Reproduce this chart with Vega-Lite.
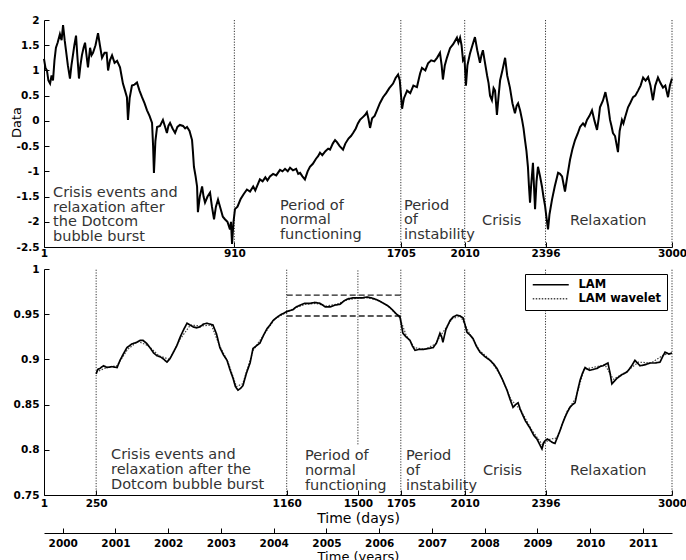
{
  "$schema": "https://vega.github.io/schema/vega-lite/v6.json",
  "background": "white",
  "padding": {"left": 10, "top": 15, "right": 0, "bottom": 0},
  "bounds": "flush",
  "spacing": 22,
  "config": {
    "view": {"stroke": null},
    "font": "DejaVu Sans",
    "axis": {
      "grid": false,
      "domainColor": "black",
      "domainWidth": 1,
      "tickColor": "black",
      "tickSize": -5,
      "tickWidth": 1,
      "labelFont": "DejaVu Sans",
      "labelFontWeight": "bold",
      "labelFontSize": 10.5,
      "labelColor": "black",
      "labelFlush": false,
      "labelOverlap": false,
      "titleFont": "DejaVu Sans",
      "titleFontWeight": "normal",
      "titleFontSize": 14,
      "titleColor": "black"
    }
  },
  "datasets": {
    "top": [
      {"d":1,"v":1.23},{"d":8,"v":1.05},{"d":15,"v":1.0},{"d":22,"v":0.8},{"d":30,"v":0.74},{"d":37,"v":0.9},{"d":44,"v":0.8},{"d":51,"v":1.2},{"d":58,"v":1.45},{"d":66,"v":1.55},{"d":77,"v":1.72},{"d":85,"v":1.6},{"d":92,"v":1.9},{"d":100,"v":1.59},{"d":106,"v":1.4},{"d":115,"v":1.1},{"d":125,"v":0.84},{"d":132,"v":1.1},{"d":139,"v":1.3},{"d":146,"v":1.5},{"d":154,"v":1.69},{"d":160,"v":1.3},{"d":168,"v":0.84},{"d":175,"v":1.1},{"d":182,"v":1.3},{"d":190,"v":1.45},{"d":197,"v":1.55},{"d":204,"v":1.3},{"d":211,"v":1.06},{"d":221,"v":1.45},{"d":228,"v":1.3},{"d":235,"v":1.35},{"d":247,"v":1.5},{"d":259,"v":1.74},{"d":268,"v":1.5},{"d":278,"v":1.25},{"d":290,"v":1.35},{"d":300,"v":1.35},{"d":307,"v":1.0},{"d":316,"v":1.2},{"d":326,"v":1.3},{"d":338,"v":1.15},{"d":350,"v":1.19},{"d":364,"v":1.06},{"d":371,"v":0.9},{"d":378,"v":0.74},{"d":388,"v":0.6},{"d":397,"v":0.47},{"d":402,"v":0.02},{"d":410,"v":0.45},{"d":421,"v":0.7},{"d":433,"v":0.72},{"d":445,"v":0.76},{"d":457,"v":0.6},{"d":469,"v":0.47},{"d":481,"v":0.35},{"d":493,"v":0.21},{"d":505,"v":0.1},{"d":517,"v":-0.04},{"d":522,"v":-0.5},{"d":526,"v":-1.03},{"d":533,"v":-0.4},{"d":541,"v":-0.12},{"d":555,"v":-0.1},{"d":569,"v":0.02},{"d":578,"v":-0.1},{"d":588,"v":-0.24},{"d":595,"v":-0.1},{"d":603,"v":-0.04},{"d":615,"v":-0.15},{"d":627,"v":-0.24},{"d":638,"v":-0.12},{"d":650,"v":-0.08},{"d":665,"v":-0.1},{"d":675,"v":-0.15},{"d":684,"v":-0.12},{"d":696,"v":-0.2},{"d":708,"v":-0.38},{"d":712,"v":-0.6},{"d":717,"v":-0.91},{"d":725,"v":-1.1},{"d":732,"v":-1.3},{"d":736,"v":-1.81},{"d":745,"v":-1.5},{"d":756,"v":-1.3},{"d":763,"v":-1.5},{"d":770,"v":-1.62},{"d":782,"v":-1.5},{"d":794,"v":-1.42},{"d":803,"v":-1.7},{"d":813,"v":-1.95},{"d":822,"v":-1.7},{"d":832,"v":-1.56},{"d":845,"v":-1.75},{"d":855,"v":-1.9},{"d":865,"v":-1.95},{"d":877,"v":-2.0},{"d":889,"v":-2.15},{"d":894,"v":-2.0},{"d":899,"v":-2.44},{"d":906,"v":-2.0},{"d":913,"v":-1.75},{"d":925,"v":-1.7},{"d":940,"v":-1.55},{"d":955,"v":-1.45},{"d":970,"v":-1.36},{"d":985,"v":-1.4},{"d":1000,"v":-1.3},{"d":1010,"v":-1.38},{"d":1018,"v":-1.3},{"d":1032,"v":-1.16},{"d":1045,"v":-1.2},{"d":1058,"v":-1.12},{"d":1068,"v":-1.18},{"d":1080,"v":-1.1},{"d":1095,"v":-1.05},{"d":1110,"v":-1.08},{"d":1128,"v":-0.97},{"d":1140,"v":-1.0},{"d":1152,"v":-0.95},{"d":1165,"v":-1.0},{"d":1176,"v":-0.93},{"d":1190,"v":-0.98},{"d":1205,"v":-0.95},{"d":1215,"v":-1.05},{"d":1224,"v":-1.03},{"d":1235,"v":-1.1},{"d":1247,"v":-1.16},{"d":1260,"v":-1.0},{"d":1271,"v":-0.91},{"d":1285,"v":-0.85},{"d":1300,"v":-0.75},{"d":1310,"v":-0.7},{"d":1319,"v":-0.63},{"d":1330,"v":-0.68},{"d":1345,"v":-0.6},{"d":1358,"v":-0.55},{"d":1367,"v":-0.57},{"d":1380,"v":-0.45},{"d":1391,"v":-0.38},{"d":1400,"v":-0.42},{"d":1413,"v":-0.5},{"d":1429,"v":-0.57},{"d":1440,"v":-0.45},{"d":1455,"v":-0.35},{"d":1467,"v":-0.3},{"d":1477,"v":-0.24},{"d":1490,"v":-0.15},{"d":1500,"v":-0.05},{"d":1510,"v":0.02},{"d":1525,"v":0.08},{"d":1535,"v":0.12},{"d":1543,"v":0.17},{"d":1550,"v":0.05},{"d":1558,"v":-0.14},{"d":1568,"v":0.05},{"d":1580,"v":0.1},{"d":1591,"v":0.21},{"d":1605,"v":0.35},{"d":1620,"v":0.47},{"d":1635,"v":0.55},{"d":1650,"v":0.65},{"d":1668,"v":0.74},{"d":1680,"v":0.85},{"d":1692,"v":0.92},{"d":1700,"v":0.8},{"d":1706,"v":0.5},{"d":1711,"v":0.24},{"d":1720,"v":0.45},{"d":1735,"v":0.6},{"d":1750,"v":0.55},{"d":1765,"v":0.7},{"d":1782,"v":0.67},{"d":1797,"v":0.94},{"d":1806,"v":1.05},{"d":1822,"v":1.0},{"d":1835,"v":1.14},{"d":1850,"v":1.2},{"d":1865,"v":1.18},{"d":1878,"v":1.25},{"d":1892,"v":1.35},{"d":1900,"v":1.1},{"d":1906,"v":0.82},{"d":1915,"v":1.1},{"d":1925,"v":1.25},{"d":1940,"v":1.44},{"d":1955,"v":1.52},{"d":1973,"v":1.65},{"d":1980,"v":1.55},{"d":1988,"v":1.65},{"d":1995,"v":1.5},{"d":2002,"v":1.2},{"d":2009,"v":1.25},{"d":2016,"v":0.7},{"d":2023,"v":1.1},{"d":2035,"v":1.33},{"d":2047,"v":1.5},{"d":2059,"v":1.66},{"d":2070,"v":1.4},{"d":2083,"v":1.15},{"d":2090,"v":1.3},{"d":2097,"v":1.4},{"d":2105,"v":1.2},{"d":2117,"v":0.9},{"d":2124,"v":0.75},{"d":2131,"v":0.5},{"d":2140,"v":0.41},{"d":2148,"v":0.65},{"d":2155,"v":0.6},{"d":2164,"v":0.12},{"d":2172,"v":0.5},{"d":2179,"v":0.8},{"d":2190,"v":1.0},{"d":2203,"v":1.25},{"d":2213,"v":0.9},{"d":2226,"v":0.66},{"d":2238,"v":0.35},{"d":2250,"v":0.15},{"d":2258,"v":0.3},{"d":2265,"v":0.35},{"d":2275,"v":0.2},{"d":2284,"v":0.02},{"d":2291,"v":-0.15},{"d":2298,"v":-0.38},{"d":2305,"v":-0.6},{"d":2312,"v":-0.91},{"d":2317,"v":-1.3},{"d":2322,"v":-1.62},{"d":2327,"v":-1.3},{"d":2336,"v":-0.83},{"d":2341,"v":-1.3},{"d":2346,"v":-1.75},{"d":2353,"v":-1.2},{"d":2360,"v":-0.91},{"d":2370,"v":-1.1},{"d":2379,"v":-1.3},{"d":2386,"v":-1.5},{"d":2394,"v":-1.69},{"d":2400,"v":-1.9},{"d":2408,"v":-2.15},{"d":2415,"v":-1.85},{"d":2427,"v":-1.56},{"d":2440,"v":-1.3},{"d":2456,"v":-1.03},{"d":2465,"v":-1.05},{"d":2475,"v":-1.1},{"d":2482,"v":-1.25},{"d":2489,"v":-1.4},{"d":2500,"v":-1.1},{"d":2513,"v":-0.77},{"d":2525,"v":-0.55},{"d":2537,"v":-0.38},{"d":2550,"v":-0.25},{"d":2561,"v":-0.12},{"d":2575,"v":-0.05},{"d":2584,"v":-0.1},{"d":2594,"v":0.02},{"d":2606,"v":0.1},{"d":2618,"v":0.21},{"d":2630,"v":0.0},{"d":2642,"v":-0.18},{"d":2650,"v":0.05},{"d":2656,"v":0.27},{"d":2670,"v":0.4},{"d":2682,"v":0.57},{"d":2695,"v":0.3},{"d":2704,"v":0.02},{"d":2711,"v":-0.1},{"d":2718,"v":-0.24},{"d":2728,"v":-0.3},{"d":2742,"v":-0.62},{"d":2750,"v":-0.2},{"d":2761,"v":0.02},{"d":2768,"v":-0.05},{"d":2776,"v":0.07},{"d":2790,"v":0.27},{"d":2800,"v":0.35},{"d":2814,"v":0.47},{"d":2825,"v":0.5},{"d":2838,"v":0.6},{"d":2850,"v":0.7},{"d":2862,"v":0.86},{"d":2874,"v":0.8},{"d":2886,"v":0.87},{"d":2897,"v":0.7},{"d":2909,"v":0.41},{"d":2920,"v":0.7},{"d":2933,"v":0.86},{"d":2945,"v":0.75},{"d":2957,"v":0.66},{"d":2968,"v":0.7},{"d":2981,"v":0.47},{"d":2990,"v":0.7},{"d":3000,"v":0.84}
    ],
    "lam": [
      {"d":250,"v":0.884},{"d":258,"v":0.889},{"d":268,"v":0.89},{"d":285,"v":0.893},{"d":302,"v":0.891},{"d":325,"v":0.892},{"d":350,"v":0.891},{"d":364,"v":0.899},{"d":380,"v":0.906},{"d":397,"v":0.913},{"d":420,"v":0.917},{"d":445,"v":0.919},{"d":460,"v":0.921},{"d":474,"v":0.921},{"d":490,"v":0.918},{"d":507,"v":0.913},{"d":525,"v":0.907},{"d":541,"v":0.904},{"d":555,"v":0.903},{"d":569,"v":0.901},{"d":588,"v":0.897},{"d":603,"v":0.901},{"d":617,"v":0.907},{"d":635,"v":0.915},{"d":650,"v":0.924},{"d":668,"v":0.933},{"d":684,"v":0.94},{"d":698,"v":0.938},{"d":713,"v":0.936},{"d":730,"v":0.935},{"d":746,"v":0.936},{"d":762,"v":0.939},{"d":779,"v":0.94},{"d":795,"v":0.939},{"d":808,"v":0.938},{"d":825,"v":0.928},{"d":841,"v":0.913},{"d":858,"v":0.905},{"d":875,"v":0.899},{"d":890,"v":0.888},{"d":904,"v":0.879},{"d":915,"v":0.87},{"d":927,"v":0.866},{"d":940,"v":0.868},{"d":951,"v":0.871},{"d":968,"v":0.885},{"d":985,"v":0.896},{"d":999,"v":0.912},{"d":1015,"v":0.915},{"d":1032,"v":0.918},{"d":1050,"v":0.927},{"d":1066,"v":0.934},{"d":1080,"v":0.938},{"d":1095,"v":0.943},{"d":1110,"v":0.946},{"d":1128,"v":0.949},{"d":1145,"v":0.951},{"d":1161,"v":0.953},{"d":1175,"v":0.954},{"d":1190,"v":0.955},{"d":1205,"v":0.958},{"d":1224,"v":0.96},{"d":1245,"v":0.962},{"d":1271,"v":0.962},{"d":1295,"v":0.963},{"d":1319,"v":0.962},{"d":1345,"v":0.958},{"d":1367,"v":0.958},{"d":1390,"v":0.96},{"d":1415,"v":0.961},{"d":1435,"v":0.965},{"d":1453,"v":0.967},{"d":1475,"v":0.968},{"d":1496,"v":0.968},{"d":1520,"v":0.968},{"d":1543,"v":0.969},{"d":1565,"v":0.968},{"d":1591,"v":0.966},{"d":1615,"v":0.963},{"d":1639,"v":0.96},{"d":1655,"v":0.957},{"d":1668,"v":0.954},{"d":1685,"v":0.95},{"d":1701,"v":0.947},{"d":1708,"v":0.938},{"d":1715,"v":0.929},{"d":1730,"v":0.925},{"d":1749,"v":0.921},{"d":1760,"v":0.915},{"d":1773,"v":0.91},{"d":1790,"v":0.911},{"d":1811,"v":0.911},{"d":1835,"v":0.912},{"d":1859,"v":0.913},{"d":1875,"v":0.918},{"d":1892,"v":0.929},{"d":1900,"v":0.925},{"d":1906,"v":0.919},{"d":1920,"v":0.933},{"d":1940,"v":0.943},{"d":1955,"v":0.947},{"d":1973,"v":0.949},{"d":1988,"v":0.948},{"d":2002,"v":0.946},{"d":2012,"v":0.938},{"d":2021,"v":0.93},{"d":2035,"v":0.927},{"d":2050,"v":0.923},{"d":2065,"v":0.915},{"d":2083,"v":0.908},{"d":2107,"v":0.903},{"d":2131,"v":0.899},{"d":2148,"v":0.895},{"d":2164,"v":0.89},{"d":2190,"v":0.878},{"d":2212,"v":0.866},{"d":2228,"v":0.855},{"d":2241,"v":0.847},{"d":2253,"v":0.85},{"d":2265,"v":0.852},{"d":2275,"v":0.845},{"d":2284,"v":0.84},{"d":2300,"v":0.832},{"d":2322,"v":0.824},{"d":2340,"v":0.816},{"d":2355,"v":0.812},{"d":2368,"v":0.806},{"d":2379,"v":0.801},{"d":2387,"v":0.808},{"d":2394,"v":0.81},{"d":2405,"v":0.812},{"d":2417,"v":0.81},{"d":2430,"v":0.808},{"d":2441,"v":0.807},{"d":2453,"v":0.814},{"d":2465,"v":0.821},{"d":2477,"v":0.829},{"d":2489,"v":0.836},{"d":2501,"v":0.842},{"d":2513,"v":0.847},{"d":2525,"v":0.85},{"d":2537,"v":0.852},{"d":2549,"v":0.865},{"d":2561,"v":0.877},{"d":2573,"v":0.885},{"d":2585,"v":0.891},{"d":2597,"v":0.889},{"d":2608,"v":0.888},{"d":2625,"v":0.889},{"d":2642,"v":0.89},{"d":2656,"v":0.892},{"d":2670,"v":0.893},{"d":2685,"v":0.895},{"d":2694,"v":0.896},{"d":2704,"v":0.885},{"d":2713,"v":0.873},{"d":2725,"v":0.876},{"d":2737,"v":0.879},{"d":2760,"v":0.883},{"d":2785,"v":0.886},{"d":2805,"v":0.892},{"d":2823,"v":0.899},{"d":2835,"v":0.896},{"d":2847,"v":0.893},{"d":2870,"v":0.894},{"d":2895,"v":0.896},{"d":2920,"v":0.896},{"d":2943,"v":0.897},{"d":2955,"v":0.903},{"d":2967,"v":0.908},{"d":2985,"v":0.906},{"d":3000,"v":0.907}
    ],
    "wavelet": [
      {"d":250,"v":0.886},{"d":300,"v":0.891},{"d":350,"v":0.893},{"d":400,"v":0.911},{"d":450,"v":0.92},{"d":500,"v":0.915},{"d":550,"v":0.904},{"d":600,"v":0.9},{"d":650,"v":0.922},{"d":700,"v":0.938},{"d":750,"v":0.937},{"d":800,"v":0.938},{"d":840,"v":0.915},{"d":880,"v":0.897},{"d":920,"v":0.87},{"d":950,"v":0.873},{"d":1000,"v":0.91},{"d":1050,"v":0.927},{"d":1100,"v":0.944},{"d":1150,"v":0.951},{"d":1200,"v":0.957},{"d":1250,"v":0.961},{"d":1300,"v":0.962},{"d":1350,"v":0.959},{"d":1400,"v":0.961},{"d":1450,"v":0.966},{"d":1500,"v":0.968},{"d":1550,"v":0.968},{"d":1600,"v":0.965},{"d":1650,"v":0.958},{"d":1700,"v":0.946},{"d":1730,"v":0.927},{"d":1770,"v":0.913},{"d":1820,"v":0.911},{"d":1870,"v":0.917},{"d":1900,"v":0.928},{"d":1950,"v":0.945},{"d":1990,"v":0.948},{"d":2030,"v":0.93},{"d":2080,"v":0.91},{"d":2130,"v":0.9},{"d":2180,"v":0.883},{"d":2230,"v":0.856},{"d":2280,"v":0.843},{"d":2330,"v":0.822},{"d":2380,"v":0.806},{"d":2420,"v":0.812},{"d":2450,"v":0.813},{"d":2500,"v":0.843},{"d":2540,"v":0.857},{"d":2580,"v":0.889},{"d":2620,"v":0.891},{"d":2680,"v":0.894},{"d":2720,"v":0.878},{"d":2780,"v":0.886},{"d":2840,"v":0.897},{"d":2900,"v":0.896},{"d":2960,"v":0.905},{"d":3000,"v":0.907}
    ]
  },
  "vconcat": [
    {
      "width": 628,
      "height": 227,
      "layer": [
        {
          "data": {"values": [{"d":910},{"d":1705},{"d":2010},{"d":2396},{"d":3000}]},
          "mark": {"type": "rule", "color": "#333", "strokeWidth": 1, "strokeDash": [1.2, 1.5]},
          "encoding": {"x": {"field": "d", "type": "quantitative"}}
        },
        {
          "data": {"name": "top"},
          "mark": {"type": "line", "color": "black", "strokeWidth": 2},
          "encoding": {
            "x": {"field": "d", "type": "quantitative",
                  "scale": {"domain": [1, 3000], "nice": false, "zero": false},
                  "axis": {"values": [1, 910, 1705, 2010, 2396, 3000], "format": "d", "title": null, "labelPadding": 6, "labelOverlap": false, "labelFlush": false}},
            "y": {"field": "v", "type": "quantitative",
                  "scale": {"domain": [-2.5, 2], "nice": false, "zero": false},
                  "axis": {"values": [-2.5, -2, -1.5, -1, -0.5, 0, 0.5, 1, 1.5, 2], "format": "~g", "labelExpr": "replace(datum.label, '−', '-')", "labelOverlap": false, "labelSeparation": 0, "labelBound": false, "labelPadding": 10, "title": "Data", "titleX": -28, "titleY": 102, "titleBaseline": "middle", "titleAlign": "center", "titleFontSize": 13}}
          }
        },
        {
          "data": {"values": [
            {"d": 44, "v": -1.291, "t": "Crisis events and\nrelaxation after\nthe Dotcom\nbubble burst"},
            {"d": 1128, "v": -1.548, "t": "Period of\nnormal\nfunctioning"},
            {"d": 1720, "v": -1.548, "t": "Period\nof\ninstability"},
            {"d": 2093, "v": -1.85, "t": "Crisis"},
            {"d": 2513, "v": -1.85, "t": "Relaxation"}
          ]},
          "mark": {"type": "text", "align": "left", "baseline": "top", "fontSize": 14.5, "lineHeight": 14.5, "lineBreak": "\n", "color": "#333", "font": "DejaVu Sans"},
          "encoding": {
            "x": {"field": "d", "type": "quantitative"},
            "y": {"field": "v", "type": "quantitative", "axis": {"values": [-2.5, -2, -1.5, -1, -0.5, 0, 0.5, 1, 1.5, 2]}},
            "text": {"field": "t"}
          }
        }
      ]
    },
    {
      "width": 628,
      "height": 226,
      "resolve": {"scale": {"x": "independent"}},
      "layer": [
        {
          "layer": [
            {
              "data": {"values": [
                {"d":250,"y1":0.75,"y2":1},{"d":1160,"y1":0.75,"y2":1},{"d":1500,"y1":0.806,"y2":1},{"d":1705,"y1":0.75,"y2":1},{"d":2010,"y1":0.75,"y2":1},{"d":2396,"y1":0.75,"y2":1},{"d":3000,"y1":0.75,"y2":1}
              ]},
              "mark": {"type": "rule", "color": "#333", "strokeWidth": 1, "strokeDash": [1.2, 1.5]},
              "encoding": {
                "x": {"field": "d", "type": "quantitative"},
                "y": {"field": "y1", "type": "quantitative"},
                "y2": {"field": "y2"}
              }
            },
            {
              "data": {"values": [{"x1":1160,"x2":1705,"y":0.971},{"x1":1160,"x2":1705,"y":0.948}]},
              "mark": {"type": "rule", "color": "#222", "strokeWidth": 1.3, "strokeDash": [6, 3]},
              "encoding": {
                "x": {"field": "x1", "type": "quantitative"},
                "x2": {"field": "x2"},
                "y": {"field": "y", "type": "quantitative"}
              }
            },
            {
              "data": {"name": "wavelet"},
              "transform": [{"calculate": "'LAM wavelet'", "as": "series"}],
              "mark": {"type": "line", "strokeWidth": 1.2},
              "encoding": {
                "x": {"field": "d", "type": "quantitative"},
                "y": {"field": "v", "type": "quantitative"},
                "color": {"field": "series", "type": "nominal", "scale": {"domain": ["LAM", "LAM wavelet"], "range": ["#000000", "#444444"]}},
                "strokeDash": {"field": "series", "type": "nominal", "scale": {"domain": ["LAM", "LAM wavelet"], "range": [[1, 0], [1.5, 1.5]]}}
              }
            },
            {
              "data": {"name": "lam"},
              "transform": [{"calculate": "'LAM'", "as": "series"}],
              "mark": {"type": "line", "strokeWidth": 1.7},
              "encoding": {
                "x": {"field": "d", "type": "quantitative",
                      "scale": {"domain": [1, 3000], "nice": false, "zero": false},
                      "axis": {"values": [1, 250, 1160, 1500, 1705, 2010, 2396, 3000], "format": "d", "title": "Time (days)", "labelPadding": 8, "titlePadding": 3, "labelOverlap": false, "labelFlush": false}},
                "y": {"field": "v", "type": "quantitative",
                      "scale": {"domain": [0.75, 1], "nice": false, "zero": false},
                      "axis": {"values": [0.75, 0.8, 0.85, 0.9, 0.95, 1], "format": "~g", "labelOverlap": false, "labelPadding": 10, "title": null}},
                "color": {"field": "series", "type": "nominal",
                          "scale": {"domain": ["LAM", "LAM wavelet"], "range": ["#000000", "#444444"]},
                          "legend": {"title": null, "orient": "none", "legendX": 481, "legendY": 254, "symbolType": "M-1,0H11", "symbolSize": 36, "symbolStrokeWidth": 1.5, "labelFont": "DejaVu Sans", "labelFontWeight": "bold", "labelFontSize": 11.5, "labelColor": "black", "labelOffset": 37, "strokeColor": "black", "fillColor": "white", "padding": 5, "rowPadding": 1}},
                "strokeDash": {"field": "series", "type": "nominal",
                               "scale": {"domain": ["LAM", "LAM wavelet"], "range": [[1, 0], [1.5, 1.5]]},
                               "legend": {"title": null, "orient": "none", "legendX": 481, "legendY": 254, "symbolType": "M-1,0H11", "symbolSize": 36, "symbolStrokeWidth": 1.5, "labelFont": "DejaVu Sans", "labelFontWeight": "bold", "labelFontSize": 11.5, "labelColor": "black", "labelOffset": 37, "strokeColor": "black", "fillColor": "white", "padding": 5, "rowPadding": 1}}
              }
            },
            {
              "data": {"values": [
                {"d": 321, "v": 0.802, "t": "Crisis events and\nrelaxation after the\nDotcom bubble burst"},
                {"d": 1247, "v": 0.801, "t": "Period of\nnormal\nfunctioning"},
                {"d": 1730, "v": 0.801, "t": "Period\nof\ninstability"},
                {"d": 2097, "v": 0.784, "t": "Crisis"},
                {"d": 2513, "v": 0.784, "t": "Relaxation"}
              ]},
              "mark": {"type": "text", "align": "left", "baseline": "top", "fontSize": 14.5, "lineHeight": 15, "lineBreak": "\n", "color": "#333", "font": "DejaVu Sans"},
              "encoding": {
                "x": {"field": "d", "type": "quantitative"},
                "y": {"field": "v", "type": "quantitative"},
                "text": {"field": "t"}
              }
            }
          ]
        },
        {
          "data": {"values": [{"year": 1999.645}, {"year": 2011.55}]},
          "mark": {"type": "point", "opacity": 0},
          "encoding": {
            "x": {"field": "year", "type": "quantitative",
                  "scale": {"domain": [1999.645, 2011.55], "nice": false, "zero": false},
                  "axis": {"orient": "bottom", "offset": 38, "values": [2000, 2001, 2002, 2003, 2004, 2005, 2006, 2007, 2008, 2009, 2010, 2011], "format": "d", "title": "Time (years)", "titleFontSize": 13, "labelPadding": 10, "titlePadding": 2, "labelOverlap": false, "labelFlush": false}}
          }
        }
      ]
    }
  ]
}
